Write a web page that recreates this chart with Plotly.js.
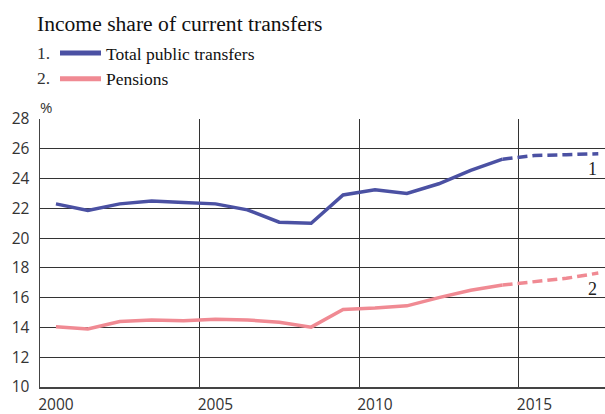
<!DOCTYPE html>
<html>
<head>
<meta charset="utf-8">
<script src="https://cdn.plot.ly/plotly-3.0.1.min.js"></script>
<style>html,body{margin:0;padding:0;background:#fff;}#chart{width:605px;height:414px;}</style>
</head>
<body>
<div id="chart"></div>
<script>
// Data
const years = [2000, 2001, 2002, 2003, 2004, 2005, 2006, 2007, 2008, 2009, 2010, 2011, 2012, 2013, 2014];
const totalActual = [22.3, 21.85, 22.3, 22.5, 22.4, 22.3, 21.9, 21.07, 21.0, 22.9, 23.25, 23.0, 23.65, 24.55, 25.3];
const pensionsActual = [14.05, 13.9, 14.4, 14.5, 14.45, 14.55, 14.5, 14.35, 14.02, 15.2, 15.3, 15.45, 16.0, 16.5, 16.85];
const forecastYears = [2014, 2015, 2016, 2017];
const totalForecast = [25.3, 25.55, 25.6, 25.67];
const pensionsForecast = [16.85, 17.05, 17.3, 17.65];
const seriesNames = ["Total public transfers", "Pensions"];
const xTickYears = [2000, 2005, 2010, 2015];
const yTicks = [10, 12, 14, 16, 18, 20, 22, 24, 26, 28];

const blue = "#4b51a3";
const pink = "#f08a93";
const serif = "Liberation Serif, serif";
const sans = "Open Sans, sans-serif";

const traces = [
  {x: years, y: totalActual, type: "scatter", mode: "lines", showlegend: false,
   line: {color: blue, width: 3.5}, xaxis: "x", yaxis: "y"},
  {x: years, y: pensionsActual, type: "scatter", mode: "lines", showlegend: false,
   line: {color: pink, width: 3.5}, xaxis: "x", yaxis: "y"},
  {x: forecastYears, y: totalForecast, type: "scatter", mode: "lines", showlegend: false,
   line: {color: blue, width: 3.5, dash: "10px,5px"}, xaxis: "x", yaxis: "y"},
  {x: forecastYears, y: pensionsForecast, type: "scatter", mode: "lines", showlegend: false,
   line: {color: pink, width: 3.5, dash: "10px,5px"}, xaxis: "x", yaxis: "y"},
  // legend entries (thicker sample lines, no data drawn)
  {x: [null], y: [null], type: "scatter", mode: "lines", name: seriesNames[0],
   line: {color: blue, width: 5}, xaxis: "x", yaxis: "y"},
  {x: [null], y: [null], type: "scatter", mode: "lines", name: seriesNames[1],
   line: {color: pink, width: 5}, xaxis: "x", yaxis: "y"},
  // activates the label axis
  {x: [years[0]], y: [null], xaxis: "x2", yaxis: "y", showlegend: false, hoverinfo: "skip", mode: "lines"}
];

const xRange = [1999.5, 2017.21];

const layout = {
  width: 605, height: 414,
  margin: {l: 40, r: 0, t: 119, b: 27},
  paper_bgcolor: "#fff", plot_bgcolor: "#fff",
  showlegend: true,
  title: {text: "Income share of current transfers", x: 37/605, xref: "container", xanchor: "left",
          y: 1 - 23/414, yref: "container", yanchor: "middle",
          font: {family: serif, size: 21.6, color: "#111"}},
  legend: {x: (55-40)/565, xref: "paper", y: (387-35)/268, yanchor: "top", xanchor: "left",
           font: {family: serif, size: 17.5, color: "#111"}, bgcolor: "rgba(0,0,0,0)",
           itemwidth: 41, tracegroupgap: 0},
  xaxis: {range: xRange, tickvals: xTickYears.map(v => v - 0.5), showticklabels: false,
          showgrid: true, gridcolor: "#333", gridwidth: 1, zeroline: false,
          showline: true, linecolor: "#444", linewidth: 1.5, ticks: "", fixedrange: true},
  xaxis2: {range: xRange, overlaying: "x", anchor: "y", side: "bottom", tickvals: xTickYears,
           ticktext: xTickYears.map(String), showgrid: false, zeroline: false, showline: false,
           ticks: "", ticklabelstandoff: 6, tickfont: {family: sans, size: 15.5, color: "#333"}},
  yaxis: {range: [10, 28], tickvals: yTicks, showgrid: true, gridcolor: "#333", gridwidth: 1,
          zeroline: false, showline: true, linecolor: "#444", linewidth: 1.5, ticks: "",
          ticklabelstandoff: 6, tickfont: {family: sans, size: 15.5, color: "#333"}},
  annotations: [
    {text: "%", xref: "paper", yref: "paper", x: (38-40)/565, y: 1, xanchor: "left", yanchor: "bottom",
     yshift: 0, showarrow: false, font: {family: sans, size: 15, color: "#333"}},
    {text: "1.", xref: "paper", yref: "paper", x: (35-40)/565, y: (387-53)/268, xanchor: "left",
     yanchor: "middle", showarrow: false, font: {family: serif, size: 17.5, color: "#333"}},
    {text: "2.", xref: "paper", yref: "paper", x: (35-40)/565, y: (387-78)/268, xanchor: "left",
     yanchor: "middle", showarrow: false, font: {family: serif, size: 17.5, color: "#333"}},
    {text: "1", x: forecastYears[forecastYears.length-1], y: totalForecast[totalForecast.length-1],
     xref: "x", yref: "y", xanchor: "center", yanchor: "middle", xshift: -6, yshift: -15,
     showarrow: false, font: {family: serif, size: 18, color: "#222"}},
    {text: "2", x: forecastYears[forecastYears.length-1], y: pensionsForecast[pensionsForecast.length-1],
     xref: "x", yref: "y", xanchor: "center", yanchor: "middle", xshift: -6, yshift: -16,
     showarrow: false, font: {family: serif, size: 18, color: "#222"}}
  ]
};

Plotly.newPlot("chart", traces, layout, {staticPlot: true, displayModeBar: false});
</script>
</body>
</html>
